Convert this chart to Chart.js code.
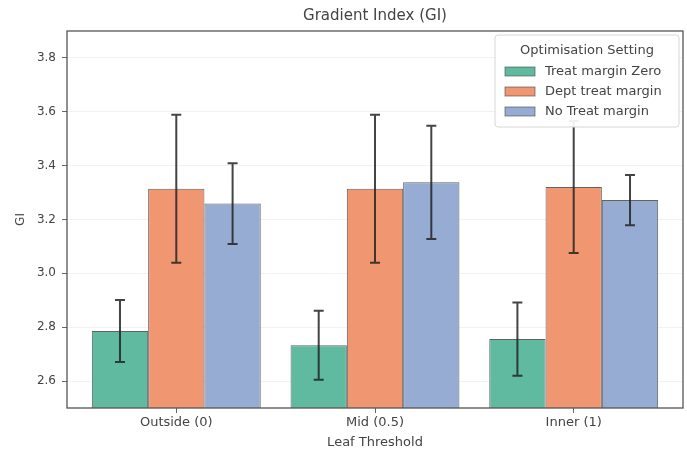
<!DOCTYPE html>
<html>
<head>
<meta charset="utf-8">
<script src="https://cdn.jsdelivr.net/npm/chart.js@4/dist/chart.umd.min.js"></script>
<style>
  html, body { margin: 0; padding: 0; background: #fff; }
  #wrap { width: 687px; height: 453px; }
</style>
</head>
<body>
<div id="wrap"><canvas id="c" width="687" height="453"></canvas></div>
<script>
// Leaf threshold categories
const categories = ['Outside (0)', 'Mid (0.5)', 'Inner (1)'];

// Mean GI per optimisation setting
const seriesNames = ['Treat margin Zero', 'Dept treat margin', 'No Treat margin'];
const treatZero   = [2.786, 2.733, 2.756];
const deptTreat   = [3.314, 3.314, 3.321];
const noTreat     = [3.259, 3.338, 3.272];

// Standard deviations (error bar half-lengths)
const treatZeroErr = [0.115, 0.128, 0.136];
const deptTreatErr = [0.275, 0.275, 0.245];
const noTreatErr   = [0.150, 0.210, 0.093];

// Y tick labels
const yTicks = [2.6, 2.8, 3.0, 3.2, 3.4, 3.6, 3.8];

const colors = ['#5fbaa0', '#f09670', '#96acd2'];
const values = [treatZero, deptTreat, noTreat];
const errors = [treatZeroErr, deptTreatErr, noTreatErr];

const datasets = values.map((vals, d) => ({
  label: seriesNames[d],
  data: vals.map((v, i) => ({ x: i, y: v })),
  errors: errors[d],
  backgroundColor: colors[d],
  borderColor: 'rgba(70,70,70,0.85)',
  borderWidth: 1,
  categoryPercentage: 0.85,
  barPercentage: 1.0
}));

// Error bars with caps, drawn over the bars
const errorBars = {
  id: 'errorBars',
  afterDatasetsDraw(chart) {
    const ctx = chart.ctx;
    const ys = chart.scales.y;
    ctx.save();
    ctx.strokeStyle = 'rgba(35,35,35,0.85)';
    ctx.lineWidth = 2;
    chart.data.datasets.forEach((ds, di) => {
      const meta = chart.getDatasetMeta(di);
      meta.data.forEach((bar, i) => {
        const v = ds.data[i].y, e = ds.errors[i];
        const x = bar.x;
        const yt = ys.getPixelForValue(v + e);
        const yb = ys.getPixelForValue(v - e);
        ctx.beginPath();
        ctx.moveTo(x, yt); ctx.lineTo(x, yb);
        ctx.moveTo(x - 5, yt); ctx.lineTo(x + 5, yt);
        ctx.moveTo(x - 5, yb); ctx.lineTo(x + 5, yb);
        ctx.stroke();
      });
    });
    ctx.restore();
  }
};

// Axes frame and the boxed legend in the upper right corner
const frameLegend = {
  id: 'frameLegend',
  afterDraw(chart) {
    const ctx = chart.ctx;
    const a = chart.chartArea;
    ctx.save();
    ctx.strokeStyle = '#555';
    ctx.lineWidth = 1.3;
    ctx.strokeRect(a.left, a.top, a.right - a.left, a.bottom - a.top);

    const bx = a.right - 188, by = a.top + 4, bw = 184, bh = 92;
    ctx.fillStyle = 'rgba(255,255,255,0.92)';
    ctx.strokeStyle = '#d6d6d6';
    ctx.lineWidth = 1;
    ctx.beginPath();
    ctx.roundRect(bx, by, bw, bh, 3);
    ctx.fill();
    ctx.stroke();

    ctx.fillStyle = '#444';
    ctx.font = '13px "DejaVu Sans"';
    ctx.textAlign = 'center';
    ctx.textBaseline = 'middle';
    ctx.fillText('Optimisation Setting', bx + bw / 2, by + 16);
    ctx.textAlign = 'left';
    seriesNames.forEach((name, i) => {
      const cy = by + 36 + i * 20;
      ctx.fillStyle = colors[i];
      ctx.fillRect(bx + 10, cy - 4, 30, 9);
      ctx.strokeStyle = 'rgba(70,70,70,0.6)';
      ctx.strokeRect(bx + 10, cy - 4, 30, 9);
      ctx.fillStyle = '#444';
      ctx.fillText(name, bx + 50, cy + 1);
    });
    ctx.restore();
  }
};

new Chart(document.getElementById('c'), {
  type: 'bar',
  data: { datasets },
  plugins: [errorBars, frameLegend],
  options: {
    responsive: false,
    animation: false,
    layout: { padding: { left: 0, right: 4, top: 0, bottom: 0 } },
    plugins: {
      legend: { display: false },
      tooltip: { enabled: false },
      title: {
        display: true,
        text: 'Gradient Index (GI)',
        fullSize: false,
        color: '#444',
        font: { family: 'DejaVu Sans', size: 15, weight: 'normal' },
        padding: { top: 7, bottom: 6 }
      }
    },
    scales: {
      x: {
        type: 'linear',
        min: -0.55,
        max: 2.55,
        offset: false,
        afterBuildTicks: s => { s.ticks = categories.map((c, i) => ({ value: i })); },
        afterFit: s => { s.height = 45; },
        ticks: {
          callback: v => categories[v],
          color: '#444',
          font: { family: 'DejaVu Sans', size: 13 },
          padding: 2,
          maxRotation: 0,
          autoSkip: false
        },
        grid: {
          drawOnChartArea: false,
          drawTicks: true,
          tickLength: 5,
          tickColor: '#666',
          offset: false
        },
        border: { display: false },
        title: {
          display: true,
          text: 'Leaf Threshold',
          color: '#444',
          font: { family: 'DejaVu Sans', size: 13 },
          padding: { top: 0, bottom: 3 }
        }
      },
      y: {
        min: 2.5,
        max: 3.9,
        afterBuildTicks: s => { s.ticks = yTicks.map(v => ({ value: v })); },
        afterFit: s => { s.width = 67; },
        ticks: {
          callback: v => v.toFixed(1),
          color: '#444',
          font: { family: 'DejaVu Sans', size: 12 },
          padding: 6
        },
        grid: {
          color: 'rgba(0,0,0,0.05)',
          tickLength: 5,
          tickColor: '#666'
        },
        border: { display: false },
        title: {
          display: true,
          text: 'GI',
          color: '#444',
          font: { family: 'DejaVu Sans', size: 12 },
          padding: { top: 14, bottom: 0 }
        }
      }
    }
  }
});
</script>
</body>
</html>
